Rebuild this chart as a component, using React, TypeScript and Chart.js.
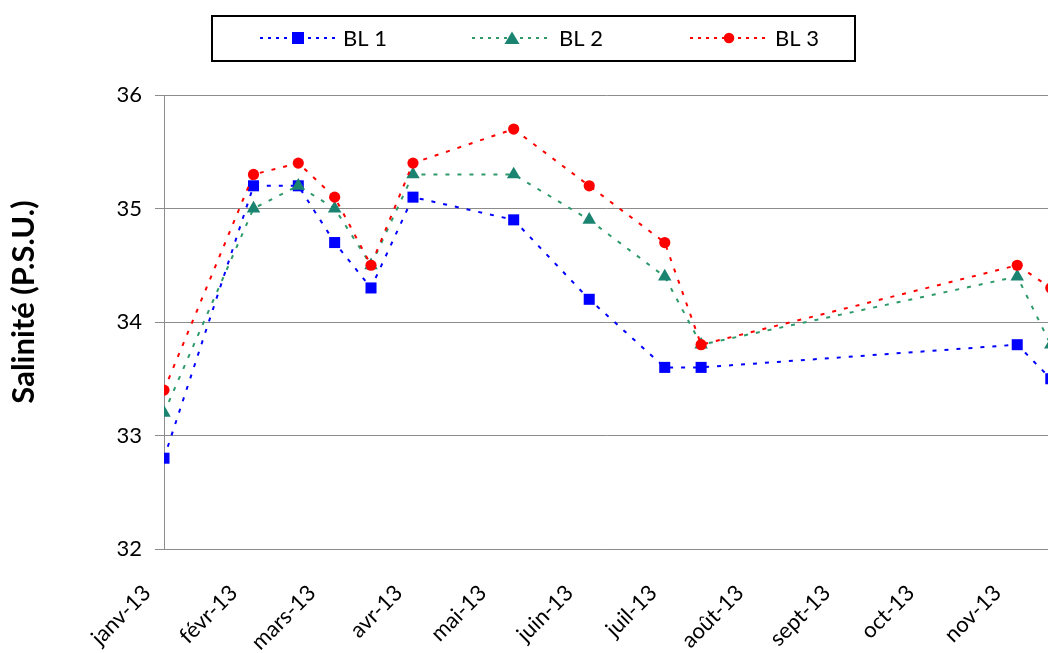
import React, { useEffect, useRef } from "react";
import { Chart, registerables } from "chart.js";

Chart.register(...registerables);

// ---- data ----
const sampleDates = [
  "2013-01-01", "2013-02-02", "2013-02-18", "2013-03-03", "2013-03-16", "2013-03-31",
  "2013-05-06", "2013-06-02", "2013-06-29", "2013-07-12", "2013-11-02", "2013-11-14",
];
const bl1 = [32.8, 35.2, 35.2, 34.7, 34.3, 35.1, 34.9, 34.2, 33.6, 33.6, 33.8, 33.5];
const bl2 = [33.2, 35.0, 35.2, 35.0, 34.5, 35.3, 35.3, 34.9, 34.4, 33.8, 34.4, 33.8];
const bl3 = [33.4, 35.3, 35.4, 35.1, 34.5, 35.4, 35.7, 35.2, 34.7, 33.8, 34.5, 34.3];
const seriesNames = ["BL 1", "BL 2", "BL 3"];
const monthTickDates = [
  "2013-01-01", "2013-02-01", "2013-03-01", "2013-04-01", "2013-05-01", "2013-06-01",
  "2013-07-01", "2013-08-01", "2013-09-01", "2013-10-01", "2013-11-01",
];
const monthLabels = [
  "janv-13", "févr-13", "mars-13", "avr-13", "mai-13", "juin-13",
  "juil-13", "août-13", "sept-13", "oct-13", "nov-13",
];
const axisStartDate = "2013-01-01";
const axisEndDate = "2013-11-13";
const yMin = 32;
const yMax = 36;
const yStep = 1;
const yTitle = "Salinité (P.S.U.)";

// ---- helpers ----
const DAY = 86400000;
const toDay = (s: string) => (Date.parse(s + "T00:00:00Z") - Date.parse(axisStartDate + "T00:00:00Z")) / DAY;
const tickDays = monthTickDates.map(toDay);
const xs = sampleDates.map(toDay);
const mk = (vals: number[]) => vals.map((v, i) => ({ x: xs[i], y: v }));

const COLORS = {
  bl1: "#0000FF",
  bl2Line: "#2E9A6B",
  bl2Fill: "#1B8470",
  bl3: "#FF0000",
  grid: "#8C8C8C",
};
const FONT = "Lato";

function drawMarker(ctx: CanvasRenderingContext2D, kind: string, x: number, y: number, color: string) {
  ctx.save();
  ctx.fillStyle = color;
  ctx.beginPath();
  if (kind === "rect") {
    ctx.rect(x - 6, y - 6, 12, 12);
  } else if (kind === "triangle") {
    ctx.moveTo(x, y - 6.5);
    ctx.lineTo(x + 7.5, y + 6);
    ctx.lineTo(x - 7.5, y + 6);
    ctx.closePath();
  } else {
    ctx.arc(x, y, 5.3, 0, Math.PI * 2);
  }
  ctx.fill();
  ctx.restore();
}

const legendPlugin = {
  id: "customLegend",
  afterDraw(chart: any) {
    const ctx: CanvasRenderingContext2D = chart.ctx;
    ctx.save();
    // frame
    ctx.strokeStyle = "#000";
    ctx.lineWidth = 2;
    ctx.strokeRect(212, 16, 643, 45);
    const items = [
      { name: seriesNames[0], line: COLORS.bl1, fill: COLORS.bl1, kind: "rect", x1: 260, x2: 336, tx: 343 },
      { name: seriesNames[1], line: COLORS.bl2Line, fill: COLORS.bl2Fill, kind: "triangle", x1: 472, x2: 552, tx: 559 },
      { name: seriesNames[2], line: COLORS.bl3, fill: COLORS.bl3, kind: "circle", x1: 690, x2: 768, tx: 775 },
    ];
    const cy = 38;
    items.forEach((it) => {
      ctx.save();
      ctx.strokeStyle = it.line;
      ctx.lineWidth = 2;
      ctx.setLineDash([3, 5]);
      ctx.beginPath();
      ctx.moveTo(it.x1, cy);
      ctx.lineTo(it.x2, cy);
      ctx.stroke();
      ctx.restore();
      drawMarker(ctx, it.kind, (it.x1 + it.x2) / 2, cy, it.fill);
      ctx.fillStyle = "#000";
      ctx.font = `22px ${FONT}`;
      ctx.textAlign = "left";
      ctx.textBaseline = "middle";
      ctx.fillText(it.name, it.tx, cy + 1);
    });
    // y title
    ctx.save();
    ctx.translate(34, 302);
    ctx.rotate(-Math.PI / 2);
    ctx.font = `bold 31px ${FONT}`;
    ctx.fillStyle = "#000";
    ctx.textAlign = "center";
    ctx.textBaseline = "alphabetic";
    ctx.fillText(yTitle, 0, 0);
    ctx.restore();
    ctx.restore();
  },
};

export default function App() {
  const ref = useRef<HTMLCanvasElement | null>(null);
  useEffect(() => {
    if (!ref.current) return;
    const common = { borderWidth: 2, borderDash: [4, 8], tension: 0, fill: false, pointBorderWidth: 0 };
    const chart = new Chart(ref.current, {
      type: "line",
      data: {
        datasets: [
          {
            ...common,
            label: seriesNames[0],
            data: mk(bl1),
            borderColor: COLORS.bl1,
            backgroundColor: COLORS.bl1,
            pointBackgroundColor: COLORS.bl1,
            pointBorderColor: COLORS.bl1,
            pointStyle: "rect",
            pointRadius: 7.8,
            order: 3,
          },
          {
            ...common,
            label: seriesNames[1],
            data: mk(bl2),
            borderColor: COLORS.bl2Line,
            backgroundColor: COLORS.bl2Fill,
            pointBackgroundColor: COLORS.bl2Fill,
            pointBorderColor: COLORS.bl2Fill,
            pointStyle: "triangle",
            pointRadius: 7.8,
            order: 2,
          },
          {
            ...common,
            label: seriesNames[2],
            data: mk(bl3),
            borderColor: COLORS.bl3,
            backgroundColor: COLORS.bl3,
            pointBackgroundColor: COLORS.bl3,
            pointBorderColor: COLORS.bl3,
            pointStyle: "circle",
            pointRadius: 5.6,
            order: 1,
          },
        ] as any,
      },
      options: {
        animation: false,
        responsive: false,
        maintainAspectRatio: false,
        layout: { autoPadding: false, padding: { top: 95, left: 0, right: 0, bottom: 0 } },
        plugins: { legend: { display: false }, tooltip: { enabled: false }, title: { display: false } },
        scales: {
          x: {
            type: "linear",
            min: 0,
            max: toDay(axisEndDate),
            grid: { display: false, drawTicks: false, tickLength: 0 },
            border: { display: true, color: COLORS.grid, width: 1 },
            ticks: {
              autoSkip: false,
              maxRotation: 45,
              minRotation: 45,
              padding: 31,
              labelOffset: -17,
              color: "#000",
              font: { family: FONT, size: 22 },
              callback: (v: any) => {
                const i = tickDays.indexOf(Number(v));
                return i >= 0 ? monthLabels[i] : "";
              },
            },
            afterBuildTicks: (s: any) => {
              s.ticks = tickDays.map((v) => ({ value: v }));
            },
            afterFit: (s: any) => {
              s.height = 104;
              s.paddingLeft = 0;
              s.paddingRight = 0;
            },
          },
          y: {
            min: yMin,
            max: yMax,
            grid: { color: COLORS.grid, lineWidth: 1, tickLength: 9 },
            border: { color: COLORS.grid, width: 1 },
            ticks: {
              stepSize: yStep,
              padding: 13,
              color: "#000",
              font: { family: FONT, size: 22 },
            },
            afterFit: (s: any) => {
              s.width = 164;
            },
          },
        },
      } as any,
      plugins: [legendPlugin],
    });
    return () => chart.destroy();
  }, []);
  return (
    <div style={{ position: "fixed", left: 0, top: 0, width: 1048, height: 653, overflow: "hidden", background: "#fff" }}>
      <canvas ref={ref} width={1048} height={653} style={{ display: "block", width: 1048, height: 653 }} />
    </div>
  );
}
